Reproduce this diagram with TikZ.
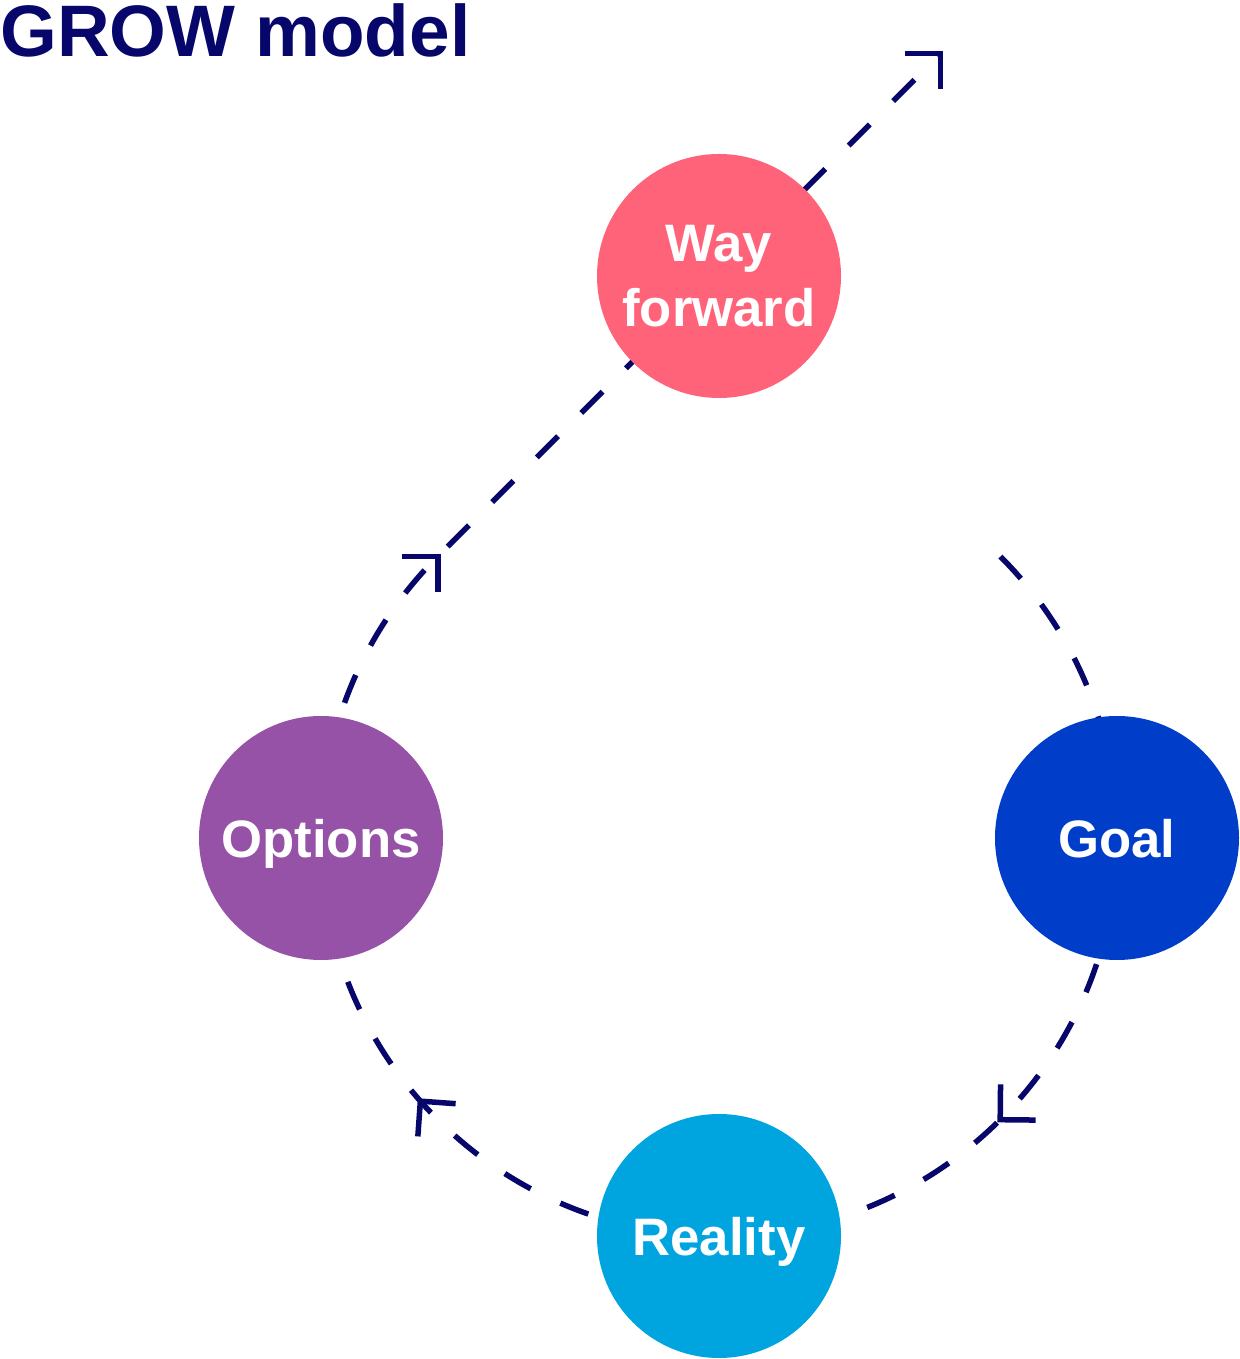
\documentclass[tikz,border=0pt]{standalone}
\usepackage{fontspec}
\setmainfont{Liberation Sans}
\usetikzlibrary{positioning,arrows.meta,decorations.markings,backgrounds}
\definecolor{navy}{HTML}{06066B}
\definecolor{wfpink}{HTML}{FF6379}
\definecolor{optpurple}{HTML}{9652A6}
\definecolor{goalblue}{HTML}{003DC9}
\definecolor{realblue}{HTML}{00A5E0}
\tikzset{
  chev/.tip={Straight Barb[length=0.5cm,width=1cm,sharp]},
  stage/.style={circle, minimum size=4.88cm, inner sep=0pt, text=white,
    font=\bfseries\fontsize{30}{37}\selectfont, align=center, text depth=0pt},
  flow/.style={navy, line width=0.11cm, dash pattern=on 0.6cm off 0.66cm, -chev},
}
\begin{document}
\begin{tikzpicture}
            \useasboundingbox (0,0) rectangle (24.8,27.18);
            %titolo
            \node[anchor=base west, inner sep=0pt, text=navy,
              font=\bfseries\fontsize{41.5}{50}\selectfont] (title) at (0,26.04) {GROW model};
            %cerchi
            \coordinate (ctr) at (14.38,10.42);
            \node[stage, fill=goalblue, right=7.96cm of ctr, anchor=center] (goal) {Goal};
            \node[stage, fill=realblue, below=7.96cm of ctr, anchor=center] (real) {Reality};
            \node[stage, fill=optpurple, left=7.96cm of ctr, anchor=center] (opt) {Options};
            \node[stage, fill=wfpink, above=11.24cm of ctr, anchor=center] (wf) {Way\\forward};
            %percorso
            \coordinate (loopstart) at ([shift={(45:7.96)}]ctr);
            \coordinate (exit) at ([shift={(135:7.96)}]ctr);
            \coordinate (out) at ([shift={(45:14.3)}]exit);
            \begin{scope}[on background layer]
            \draw[flow, postaction={decorate, decoration={markings,
                mark=at position 12.59cm with {\arrow{chev}},
                mark=at position 25.59cm with {\arrow{chev}},
                mark=at position 37.6cm with {\arrow{chev}}}}]
              (loopstart) arc[start angle=45, end angle=-225, radius=7.96] -- (out);
            \end{scope}
        \end{tikzpicture}
\end{document}
